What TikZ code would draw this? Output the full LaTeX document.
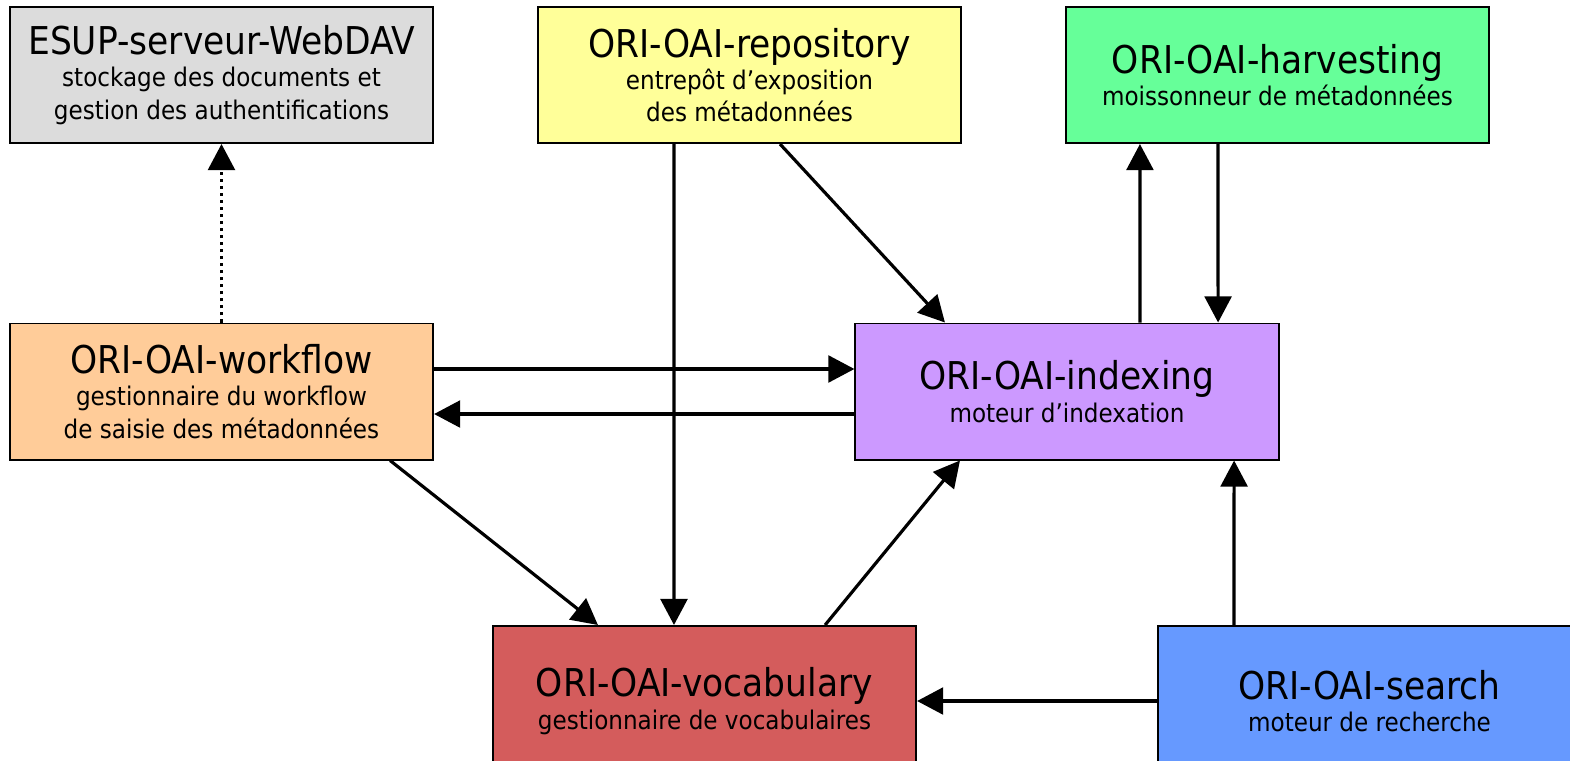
\documentclass[tikz,border=0pt]{standalone}
\usepackage{fontspec}
\setmainfont{DejaVu Sans Condensed}
\usetikzlibrary{arrows.meta}

\definecolor{davgray}{HTML}{DCDCDC}
\definecolor{repoyellow}{HTML}{FFFF99}
\definecolor{harvgreen}{HTML}{66FF99}
\definecolor{workorange}{HTML}{FFCC99}
\definecolor{indexpurple}{HTML}{CC99FF}
\definecolor{vocabred}{HTML}{D45C5C}
\definecolor{searchblue}{HTML}{6699FF}

\newcommand{\modname}[1]{{\fontsize{10.9}{12}\selectfont #1}}

\begin{document}
\begin{tikzpicture}[x=0.01cm,y=-0.01cm]
\tikzstyle{every node}=[rectangle, draw, line width=0.55pt, minimum width=4.23cm, minimum height=1.36cm, align=center, inner sep=1pt, font=\fontsize{7.3}{9.2}\selectfont]
\tikzstyle{link}=[line width=0.9pt, -{Triangle[length=7.4pt,width=7.6pt]}]
\useasboundingbox (0,0) rectangle (1570,760);
\draw (221.5,75) node (esup) [fill=davgray] {\modname{ESUP-serveur-WebDAV}\\stockage des documents et\\gestion des authentifications};
\draw (749.5,75) node (repo) [fill=repoyellow] {\modname{ORI-OAI-repository}\\entrep\^ot d'exposition\\des m\'etadonn\'ees};
\draw (1277.5,75) node (harv) [fill=harvgreen] {\modname{ORI-OAI-harvesting}\\moissonneur de m\'etadonn\'ees};
\draw (221.5,391.5) node (work) [fill=workorange] {\modname{ORI-OAI-workflow}\\gestionnaire du workflow\\de saisie des m\'etadonn\'ees};
\draw (1067,391.5) node (index) [fill=indexpurple] {\modname{ORI-OAI-indexing}\\moteur d'indexation};
\draw (704.5,701) node (vocab) [fill=vocabred, minimum height=1.5cm] {\modname{ORI-OAI-vocabulary}\\gestionnaire de vocabulaires};
\draw (1369.5,701) node (search) [fill=searchblue, minimum height=1.5cm] {\modname{ORI-OAI-search}\\moteur de recherche};
\draw [link, dash pattern=on 0.9pt off 1.1pt] (work.north) -- (esup.south);
\draw [link] ([xshift=-0.755cm]repo.south) -- ([xshift=-0.305cm]vocab.north);
\draw [link] ([xshift=0.305cm]repo.south) -- ([xshift=-1.22cm]index.north);
\draw [link] ([xshift=0.73cm]index.north) -- ([xshift=-1.375cm]harv.south);
\draw [link] ([xshift=-0.595cm]harv.south) -- ([xshift=1.51cm]index.north);
\draw [link] ([yshift=0.225cm]work.east) -- ([yshift=0.225cm]index.west);
\draw [link] ([yshift=-0.225cm]index.west) -- ([yshift=-0.225cm]work.east);
\draw [link] ([xshift=1.685cm]work.south) -- ([xshift=-1.065cm]vocab.north);
\draw [link] ([xshift=1.205cm]vocab.north) -- ([xshift=-1.07cm]index.south);
\draw [link] ([xshift=-1.355cm]search.north) -- ([xshift=1.67cm]index.south);
\draw [link] (search.west) -- (vocab.east);
\end{tikzpicture}
\end{document}
